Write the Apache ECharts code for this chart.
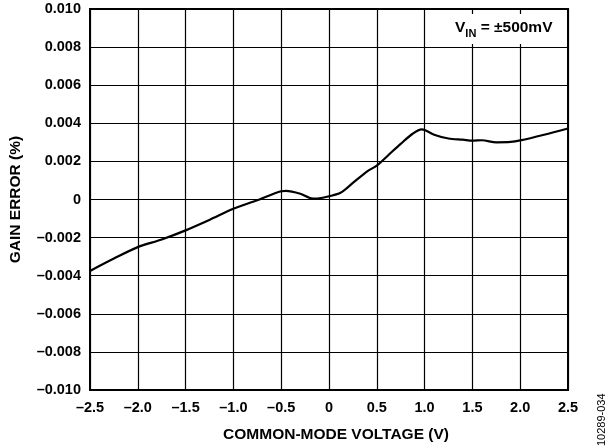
<!DOCTYPE html>
<html><head><meta charset="utf-8">
<script src="https://cdn.jsdelivr.net/npm/echarts@6/dist/echarts.min.js"></script>
<style>html,body{margin:0;padding:0;background:#fff}#c{width:608px;height:448px}</style>
</head><body><div id="c"></div>
<script>
const xVals = [-2.5, -2.25, -2.0, -1.75, -1.5, -1.25, -1.0, -0.75, -0.5, -0.45, -0.3, -0.2, -0.12, 0.0, 0.12, 0.25, 0.4, 0.5, 0.625, 0.75, 0.875, 0.97, 1.0, 1.1, 1.25, 1.4, 1.5, 1.6, 1.75, 1.9, 2.0, 2.25, 2.5];
const gainError = [-0.00375, -0.0031, -0.0025, -0.0021, -0.00162, -0.00107, -0.00049, -0.00004, 0.00043, 0.00045, 0.00030, 0.00008, 0.00005, 0.00017, 0.00035, 0.00087, 0.00148, 0.00178, 0.00235, 0.00292, 0.00345, 0.00368, 0.00365, 0.0034, 0.0032, 0.00314, 0.00309, 0.00311, 0.00300, 0.00302, 0.0031, 0.0034, 0.00373];
const xTicks = [-2.5, -2.0, -1.5, -1.0, -0.5, 0, 0.5, 1.0, 1.5, 2.0, 2.5];
const yTicks = [-0.010, -0.008, -0.006, -0.004, -0.002, 0, 0.002, 0.004, 0.006, 0.008, 0.010];

const fmtX = v => { if (Math.abs(v) < 1e-9) return '0'; const s = Math.abs(v).toFixed(1); return (v < 0 ? '\u2013' : '') + s; };
const fmtY = v => { if (Math.abs(v) < 1e-9) return '0'; const s = Math.abs(v).toFixed(3); return (v < 0 ? '\u2013' : '') + s; };

const chart = echarts.init(document.getElementById('c'), null, {renderer: 'canvas'});
const font = 'Liberation Sans, Arial, sans-serif';
chart.setOption({
  animation: false,
  backgroundColor: '#fff',
  grid: {left: 88, right: 40, top: 9, bottom: 57, show: true, borderColor: '#000', borderWidth: 2},
  xAxis: {
    type: 'value', min: -2.5, max: 2.5, interval: 0.5,
    axisLine: {show: false}, axisTick: {show: false},
    splitLine: {show: true, lineStyle: {color: '#000', width: 1.2}},
    axisLabel: {formatter: fmtX, color: '#000', fontFamily: font, fontWeight: 'bold', fontSize: 14.5, margin: 10},
    name: 'COMMON-MODE VOLTAGE (V)', nameLocation: 'middle', nameGap: 37,
    nameTextStyle: {color: '#000', fontFamily: font, fontWeight: 'bold', fontSize: 15.5, padding: [0, 0, 0, 14]}
  },
  yAxis: {
    type: 'value', min: -0.010, max: 0.010, interval: 0.002,
    axisLine: {show: false}, axisTick: {show: false},
    splitLine: {show: true, lineStyle: {color: '#000', width: 1.2}},
    axisLabel: {formatter: fmtY, color: '#000', fontFamily: font, fontWeight: 'bold', fontSize: 14.5, margin: 9},
    name: 'GAIN ERROR (%)', nameLocation: 'middle', nameGap: 66, nameRotate: 90,
    nameTextStyle: {color: '#000', fontFamily: font, fontWeight: 'bold', fontSize: 15.5}
  },
  series: [{
    type: 'line', data: xVals.map((x, i) => [x, gainError[i]]),
    smooth: 0.3, showSymbol: false, symbol: 'none',
    lineStyle: {color: '#000', width: 2.2}
  }],
  graphic: [
    {type: 'rect', shape: {x: 450, y: 14, width: 116, height: 30}, style: {fill: '#fff'}, z: 10},
    {type: 'text', x: 455, y: 20, z: 11, style: {
      text: '{v|V}{s|IN}{v| = \u00b1500mV}',
      rich: {
        v: {fontFamily: font, fontWeight: 'bold', fontSize: 15.5, fill: '#000', verticalAlign: 'top'},
        s: {fontFamily: font, fontWeight: 'bold', fontSize: 11, fill: '#000', padding: [8, 0, 0, 0], verticalAlign: 'top'}
      }
    }},
    {type: 'text', x: 596, y: 446, rotation: Math.PI / 2, z: 11, style: {
      text: '10289-034', fontFamily: font, fontSize: 11, fill: '#000'
    }}
  ]
});
</script></body></html>
